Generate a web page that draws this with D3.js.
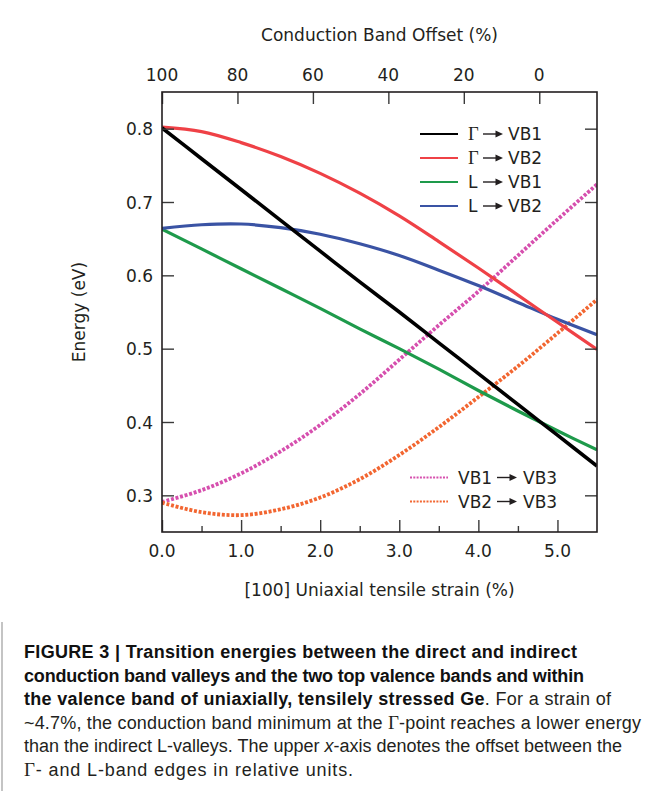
<!DOCTYPE html>
<html>
<head>
<meta charset="utf-8">
<script src="https://cdn.jsdelivr.net/npm/d3@7"></script>
<style>
  body { margin: 0; background: #fff; }
  svg { display: block; }
</style>
</head>
<body>
<svg id="chart" width="650" height="791"></svg>
<script>
// Uniaxial [100] tensile strain (%) at which the transition energies are sampled
const strain = [0, 0.5, 1.0, 1.5, 2.0, 2.5, 3.0, 3.5, 4.0, 4.5, 5.0, 5.5];

// Transition energies (eV)
const gammaVB1 = [0.801, 0.759, 0.717, 0.675, 0.633, 0.591, 0.550, 0.508, 0.466, 0.424, 0.382, 0.340];
const gammaVB2 = [0.802, 0.796, 0.781, 0.762, 0.739, 0.712, 0.681, 0.646, 0.610, 0.573, 0.536, 0.499];
const lVB1     = [0.663, 0.636, 0.609, 0.582, 0.555, 0.527, 0.500, 0.472, 0.443, 0.415, 0.388, 0.362];
const lVB2     = [0.664, 0.669, 0.670, 0.665, 0.656, 0.643, 0.627, 0.607, 0.586, 0.563, 0.540, 0.519];
const vb1VB3   = [0.291, 0.307, 0.330, 0.360, 0.396, 0.438, 0.485, 0.532, 0.578, 0.627, 0.676, 0.724];
const vb2VB3   = [0.290, 0.277, 0.273, 0.281, 0.297, 0.322, 0.355, 0.393, 0.434, 0.476, 0.521, 0.567];

// Axis ticks
const strainTicks = [0, 1, 2, 3, 4, 5];
const strainMinorTicks = [0.5, 1.5, 2.5, 3.5, 4.5];
const energyTicks = [0.3, 0.4, 0.5, 0.6, 0.7, 0.8];
const offsetTicks = [100, 80, 60, 40, 20, 0];
// strain (%) at which the conduction band offset reaches 0 %
const zeroOffsetStrain = 4.77;

const svg = d3.select("#chart");
const plot = { left: 162, right: 597, top: 92, bottom: 532 };

const x = d3.scaleLinear().domain([0, 5.5]).range([plot.left, plot.right]);
const y = d3.scaleLinear().domain([0.25, 0.85]).range([plot.bottom, plot.top]);
// offset axis: 100 % at zero strain, 0 % at the crossover strain
const xTop = d3.scaleLinear()
  .domain([100, 100 * (1 - 5.5 / zeroOffsetStrain)])
  .range([plot.left, plot.right]);

const axisFont = "'DejaVu Sans', Verdana, sans-serif";
const serif = "'Liberation Serif', 'Times New Roman', serif";
const ink = "#231f20";

const series = [
  { key: "gVB1", values: gammaVB1, color: "#000000", width: 3.6, dash: null },
  { key: "lVB1", values: lVB1,     color: "#1e9a4b", width: 3.2, dash: null },
  { key: "lVB2", values: lVB2,     color: "#3a53a4", width: 3.2, dash: null },
  { key: "gVB2", values: gammaVB2, color: "#ef4146", width: 3.2, dash: null },
  { key: "v1v3", values: vb1VB3,   color: "#d64fae", width: 3.8, dash: "3,1.7" },
  { key: "v2v3", values: vb2VB3,   color: "#f26631", width: 3.8, dash: "3,1.7" }
];

// clip curves to the plotting frame
svg.append("defs").append("clipPath").attr("id", "plotClip")
  .append("rect")
  .attr("x", plot.left).attr("y", plot.top)
  .attr("width", plot.right - plot.left).attr("height", plot.bottom - plot.top);

const line = d3.line()
  .x((d, i) => x(strain[i]))
  .y(d => y(d))
  .curve(d3.curveCatmullRom.alpha(0.5));

const curves = svg.append("g").attr("clip-path", "url(#plotClip)");
const drawOrder = ["v1v3", "v2v3", "lVB1", "lVB2", "gVB2", "gVB1"];
drawOrder.forEach(k => {
  const s = series.find(d => d.key === k);
  curves.append("path")
    .attr("d", line(s.values))
    .attr("fill", "none")
    .attr("stroke", s.color)
    .attr("stroke-width", s.width)
    .attr("stroke-dasharray", s.dash)
    .attr("stroke-linecap", "butt")
    .attr("stroke-linejoin", "round");
});

// Axes with inward ticks
const tickLen = 12;
const tickColor = "#3a3a3a";

const bottomAxis = svg.append("g")
  .attr("transform", `translate(0,${plot.bottom})`)
  .call(d3.axisTop(x).tickValues(strainTicks).tickSize(tickLen).tickFormat(""));
const bottomMinor = svg.append("g")
  .attr("transform", `translate(0,${plot.bottom})`)
  .call(d3.axisTop(x).tickValues(strainMinorTicks).tickSize(6).tickFormat(""));
const leftAxis = svg.append("g")
  .attr("transform", `translate(${plot.left},0)`)
  .call(d3.axisRight(y).tickValues(energyTicks).tickSize(tickLen).tickFormat(""));
const rightAxis = svg.append("g")
  .attr("transform", `translate(${plot.right},0)`)
  .call(d3.axisLeft(y).tickValues(energyTicks).tickSize(tickLen).tickFormat(""));
const topAxis = svg.append("g")
  .attr("transform", `translate(0,${plot.top})`)
  .call(d3.axisBottom(xTop).tickValues(offsetTicks).tickSize(tickLen).tickFormat(""));

[bottomAxis, bottomMinor, leftAxis, rightAxis, topAxis].forEach(g => {
  g.select(".domain").remove();
  g.selectAll(".tick line").attr("stroke", tickColor).attr("stroke-width", 1.4);
});

// frame
svg.append("rect")
  .attr("x", plot.left).attr("y", plot.top)
  .attr("width", plot.right - plot.left).attr("height", plot.bottom - plot.top)
  .attr("fill", "none").attr("stroke", ink).attr("stroke-width", 1.6);

// tick labels
const labelSize = 17;
svg.append("g").selectAll("text").data(strainTicks).join("text")
  .attr("x", d => x(d)).attr("y", 557)
  .attr("text-anchor", "middle")
  .attr("font-family", axisFont).attr("font-size", labelSize).attr("fill", ink)
  .text(d3.format(".1f"));

svg.append("g").selectAll("text").data(energyTicks).join("text")
  .attr("x", plot.left - 9).attr("y", d => y(d) + 6.5)
  .attr("text-anchor", "end")
  .attr("font-family", axisFont).attr("font-size", labelSize).attr("fill", ink)
  .text(d3.format(".1f"));

svg.append("g").selectAll("text").data(offsetTicks).join("text")
  .attr("x", d => xTop(d)).attr("y", 80.5)
  .attr("text-anchor", "middle")
  .attr("font-family", axisFont).attr("font-size", labelSize).attr("fill", ink)
  .text(d => d);

// axis titles
const cx = (plot.left + plot.right) / 2;
svg.append("text")
  .attr("x", cx).attr("y", 41)
  .attr("text-anchor", "middle")
  .attr("font-family", axisFont).attr("font-size", labelSize).attr("fill", ink)
  .text("Conduction Band Offset (%)");

svg.append("text")
  .attr("x", cx).attr("y", 596)
  .attr("text-anchor", "middle")
  .attr("font-family", axisFont).attr("font-size", labelSize).attr("fill", ink)
  .text("[100] Uniaxial tensile strain (%)");

svg.append("text")
  .attr("transform", `translate(85,${(plot.top + plot.bottom) / 2}) rotate(-90)`)
  .attr("text-anchor", "middle")
  .attr("font-family", axisFont).attr("font-size", labelSize).attr("fill", ink)
  .text("Energy (eV)");

// legend helpers: label text, a filled-head arrow, then the target band
function arrow(g, x0, x1, yy) {
  g.append("line")
    .attr("x1", x0).attr("x2", x1 - 5).attr("y1", yy).attr("y2", yy)
    .attr("stroke", ink).attr("stroke-width", 1.4);
  g.append("path")
    .attr("d", `M${x1 - 7.5},${yy - 3.6}L${x1},${yy}L${x1 - 7.5},${yy + 3.6}Z`)
    .attr("fill", ink);
}
function word(g, txt, tx, ty, isSerif) {
  g.append("text")
    .attr("x", tx).attr("y", ty + 6.2)
    .attr("font-family", isSerif ? serif : axisFont)
    .attr("font-size", isSerif ? 18.5 : labelSize)
    .attr("fill", ink)
    .text(txt);
}

const legendTop = [
  { key: "gVB1", from: "Γ", serif: true,  to: "VB1" },
  { key: "gVB2", from: "Γ", serif: true,  to: "VB2" },
  { key: "lVB1", from: "L", serif: false, to: "VB1" },
  { key: "lVB2", from: "L", serif: false, to: "VB2" }
];
const legendTopY = d3.scaleLinear().domain([0, 3]).range([134, 206]);
const lg1 = svg.append("g");
legendTop.forEach((d, i) => {
  const s = series.find(v => v.key === d.key);
  const yy = legendTopY(i);
  lg1.append("line")
    .attr("x1", 420).attr("x2", 458).attr("y1", yy).attr("y2", yy)
    .attr("stroke", s.color).attr("stroke-width", 1.8);
  word(lg1, d.from, 468, yy, d.serif);
  arrow(lg1, 483, 503, yy);
  word(lg1, d.to, 508, yy, false);
});

const legendBottom = [
  { key: "v1v3", from: "VB1", to: "VB3" },
  { key: "v2v3", from: "VB2", to: "VB3" }
];
const legendBottomY = d3.scaleLinear().domain([0, 1]).range([477.5, 501.5]);
const lg2 = svg.append("g");
legendBottom.forEach((d, i) => {
  const s = series.find(v => v.key === d.key);
  const yy = legendBottomY(i);
  lg2.append("line")
    .attr("x1", 410).attr("x2", 448).attr("y1", yy).attr("y2", yy)
    .attr("stroke", s.color).attr("stroke-width", 1.8)
    .attr("stroke-dasharray", "2,1.3");
  word(lg2, d.from, 458, yy, false);
  arrow(lg2, 497, 517, yy);
  word(lg2, d.to, 523, yy, false);
});

// caption
const capFont = "'Liberation Sans', Arial, Helvetica, sans-serif";
svg.append("line")
  .attr("x1", 2).attr("x2", 2).attr("y1", 622).attr("y2", 791)
  .attr("stroke", "#b0b0b0").attr("stroke-width", 1.5);

const captionLines = [
  { w: 553, parts: [{ t: "FIGURE 3 | Transition energies between the direct and indirect", b: true }] },
  { w: 560, parts: [{ t: "conduction band valleys and the two top valence bands and within", b: true }] },
  { w: 587, parts: [{ t: "the valence band of uniaxially, tensilely stressed Ge", b: true }, { t: ". For a strain of" }] },
  { w: 617, parts: [{ t: "~4.7%, the conduction band minimum at the " }, { t: "Γ", s: true }, { t: "-point reaches a lower energy" }] },
  { w: 598, parts: [{ t: "than the indirect L-valleys. The upper " }, { t: "x", i: true }, { t: "-axis denotes the offset between the" }] },
  { w: 329, parts: [{ t: "Γ", s: true }, { t: "- and L-band edges in relative units." }] }
];
const capY = d3.scaleLinear().domain([0, 5]).range([658, 776]);
captionLines.forEach((ln, i) => {
  const t = svg.append("text")
    .attr("x", 24).attr("y", capY(i))
    .attr("font-family", capFont).attr("font-size", 18).attr("fill", ink)
    .attr("textLength", ln.w).attr("lengthAdjust", "spacing");
  ln.parts.forEach(p => {
    const ts = t.append("tspan").text(p.t);
    if (p.b) ts.attr("font-weight", "bold").attr("fill", "#111");
    if (p.i) ts.attr("font-style", "italic");
    if (p.s) ts.attr("font-family", serif).attr("font-size", 19);
  });
});
</script>
</body>
</html>
